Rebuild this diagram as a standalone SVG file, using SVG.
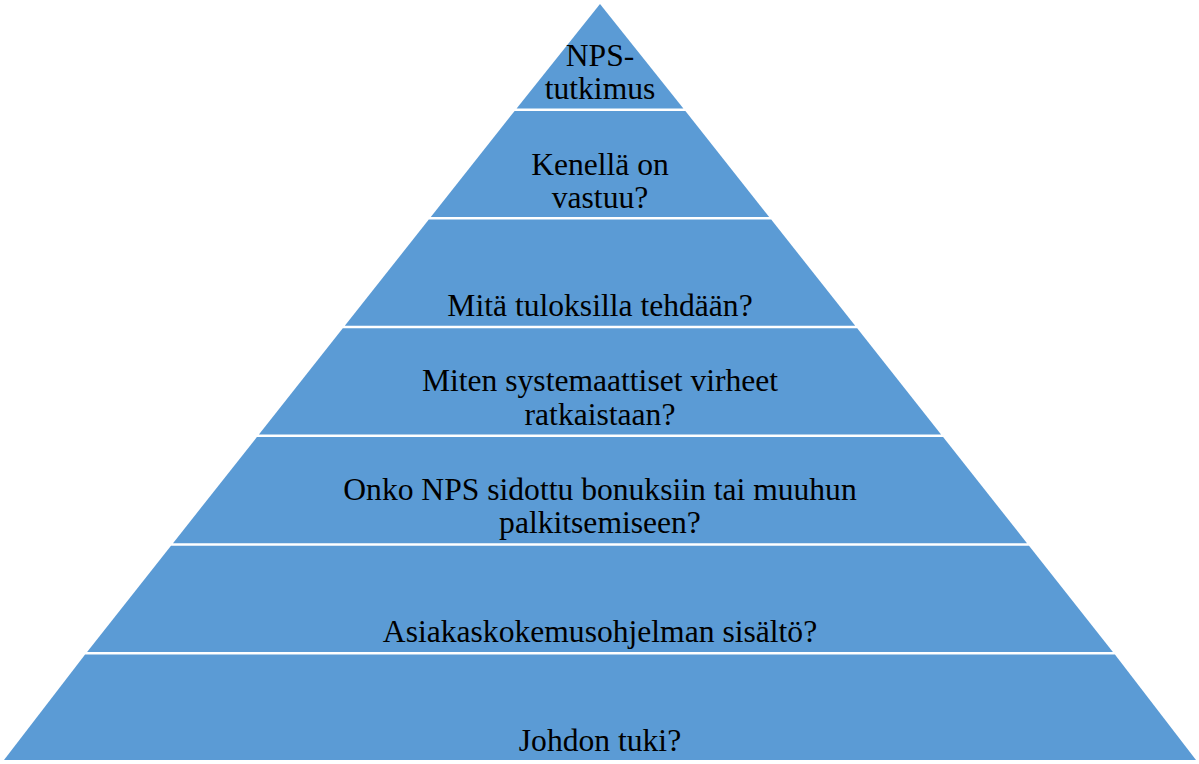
<svg xmlns="http://www.w3.org/2000/svg" width="1199" height="764" viewBox="0 0 1199 764">
<style>
.layer{fill:#5B9BD5;}
.t{font-family:"Liberation Serif","Times New Roman",serif;font-size:31.6px;fill:#000;text-anchor:middle;}
</style>
<rect width="1199" height="764" fill="#fff"/>
<g id="layer1"><polygon class="layer" points="600,4 683.4,108.5 516.6,108.5"/><text class="t" x="600" y="66">NPS-</text><text class="t" x="600" y="99">tutkimus</text></g>
<g id="layer2"><polygon class="layer" points="514.6,111 685.4,111 769.2,217 430.8,217"/><text class="t" x="600" y="175">Kenellä on</text><text class="t" x="600" y="208">vastuu?</text></g>
<g id="layer3"><polygon class="layer" points="428.8,219.5 771.2,219.5 855.2,325.8 344.8,325.8"/><text class="t" x="600" y="316">Mitä tuloksilla tehdään?</text></g>
<g id="layer4"><polygon class="layer" points="342.8,328.3 857.2,328.3 941.1,434.5 258.9,434.5"/><text class="t" x="600" y="391">Miten systemaattiset virheet</text><text class="t" x="600" y="425">ratkaistaan?</text></g>
<g id="layer5"><polygon class="layer" points="256.9,437 943.1,437 1027,543.2 173,543.2"/><text class="t" x="600" y="500">Onko NPS sidottu bonuksiin tai muuhun</text><text class="t" x="600" y="533">palkitsemiseen?</text></g>
<g id="layer6"><polygon class="layer" points="171,545.7 1029,545.7 1112.9,651.9 87.1,651.9"/><text class="t" x="600" y="642">Asiakaskokemusohjelman sisältö?</text></g>
<g id="layer7"><polygon class="layer" points="85.1,654.4 1114.9,654.4 1196,760 4,760"/><text class="t" x="600" y="751">Johdon tuki?</text></g>
<g id="connectors"></g>
</svg>
